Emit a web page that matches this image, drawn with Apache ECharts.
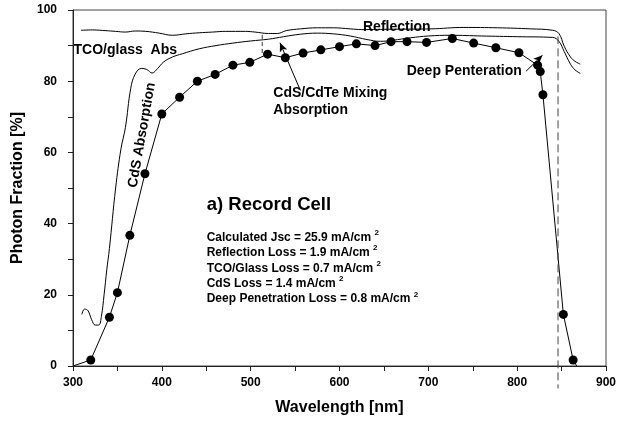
<!DOCTYPE html>
<html>
<head>
<meta charset="utf-8">
<script src="https://cdn.jsdelivr.net/npm/echarts@6/dist/echarts.min.js"></script>
<style>html,body{margin:0;padding:0;background:#fff}#c{width:626px;height:426px}</style>
</head>
<body>
<div id="c"></div>
<script>
// Measured photon fraction (dots)
const measured = [[300,0],[320,1.7],[341,13.7],[350,20.6],[364,36.7],[381,54],[400,70.8],[420,75.5],[440,80],[460,81.9],[480,84.5],[499,85.3],[519,87.6],[539,86.6],[559,87.9],[579,88.8],[600,89.7],[619,90.5],[640,90],[658,91.1],[676,91.1],[698,90.9],[727,92],[751,90.7],[776,89.4],[802,88],[823,84.5],[826,82.7],[829,76.2],[852,14.5],[863,1.7],[867,0]];
// 100 - Reflection
const reflection = [[309,94.3],[322,94.4],[337,94.2],[348,94.0],[359,93.8],[370,94.1],[382,94.0],[397,93.5],[412,92.9],[427,93.3],[442,93.6],[457,93.8],[472,94.0],[494,94.0],[505,93.8],[520,93.4],[530,93.4],[540,94.2],[556,94.7],[575,95],[593,95],[612,94.7],[625,94.5],[660,94.6],[703,94.7],[740,95.1],[778,95],[815,94.7],[840,94.3],[847,93.4],[853,89.8],[860,86.8],[865,85.6],[871,84.8]];
// 100 - Reflection - TCO/glass absorption
const tcoGlass = [[310,14.5],[313,16],[317,15.5],[321,13],[325,11.5],[329,11.5],[332,14],[335,20],[338,27],[341,33],[348,50],[354,61],[359,67],[365,78],[370,82],[377,83.6],[383,83.3],[389,82.3],[395,83.5],[402,85.4],[412,86.8],[423,87.7],[442,89.1],[461,90],[480,90.7],[500,91.3],[520,91.8],[537,92.5],[556,93.2],[575,93.5],[593,93.3],[612,92.7],[631,91.7],[646,91.2],[660,91.5],[680,92.2],[700,92.7],[725,92.9],[760,92.7],[800,92.5],[840,92.3],[847,91.2],[853,88.3],[860,84.8],[865,83.2],[871,82.2]];
// cutoff markers
const cutoffLong = [[846,92.6],[846,-6.3]];
const cutoffShort = [[513,93],[513,87.7]];
// annotation arrows [from, to]
const arrowMixing = [[556,77.4],[533,90.8]];
const arrowDeep = [[810,82.8],[828.5,87.3]];
const xTicks = {min:300, max:900, interval:100};
const yTicks = {min:0, max:100, interval:20};
const infoLines = [
  'Calculated Jsc = 25.9 mA/cm',
  'Reflection Loss = 1.9 mA/cm',
  'TCO/Glass Loss = 0.7 mA/cm',
  'CdS Loss = 1.4 mA/cm',
  'Deep Penetration Loss = 0.8 mA/cm'
];

const FONT = '"Liberation Sans", Arial, sans-serif';
const chart = echarts.init(document.getElementById('c'));
const measuredData = measured.map((p, i) => (i === 0 || i === measured.length - 1) ? {value: p, symbol: 'none'} : p);

const graphics = [];
const addText = (text, x, y, size, extra) => graphics.push(Object.assign({
  type: 'text', x: x, y: y,
  style: {text: text, fill: '#000', font: 'bold ' + size + 'px ' + FONT, textVerticalAlign: 'middle'}
}, extra || {}));
addText('TCO/glass  Abs', 73.5, 50, 14);
addText('Reflection', 363, 26.7, 14);
addText('CdS/CdTe Mixing', 273.3, 93.3, 14);
addText('Absorption', 273.3, 110, 14);
addText('Deep Penteration', 406.7, 70.7, 14);
addText('a) Record Cell', 206.7, 205, 18.5);
graphics.push({
  type: 'text', x: 142, y: 135, rotation: 80 * Math.PI / 180,
  style: {text: 'CdS Absorption', fill: '#000', font: 'bold 14px ' + FONT, textAlign: 'center', textVerticalAlign: 'middle'}
});
const infoY = [237.3, 252.7, 268.3, 283.3, 299];
infoLines.forEach((t, i) => {
  graphics.push({
    type: 'text', x: 206.7, y: infoY[i] - 8.5,
    style: {
      text: '{m|' + t + '} {s|2}',
      textVerticalAlign: 'top',
      rich: {
        m: {fontSize: 12, fontWeight: 'bold', fontFamily: FONT, fill: '#000', color: '#000', lineHeight: 17, verticalAlign: 'middle'},
        s: {fontSize: 8, fontWeight: 'bold', fontFamily: FONT, fill: '#000', color: '#000', lineHeight: 7, verticalAlign: 'top'}
      }
    }
  });
});

const axisCommon = {
  type: 'value',
  axisLine: {show: true, lineStyle: {color: '#222', width: 1}},
  axisTick: {show: true, length: 5, lineStyle: {color: '#222'}},
  minorTick: {show: true, splitNumber: 2, length: 5, lineStyle: {color: '#222'}},
  splitLine: {show: false},
  axisLabel: {color: '#000', fontWeight: 'bold', fontSize: 12, fontFamily: FONT},
  nameLocation: 'middle',
  nameTextStyle: {color: '#000', fontWeight: 'bold', fontSize: 16, fontFamily: FONT}
};

chart.setOption({
  animation: false,
  backgroundColor: '#fff',
  grid: {left: 73, right: 20, top: 10, bottom: 60, show: true, borderColor: '#444', borderWidth: 1, backgroundColor: 'transparent'},
  xAxis: Object.assign({}, axisCommon, xTicks, {name: 'Wavelength [nm]', nameGap: 34, axisLabel: Object.assign({}, axisCommon.axisLabel, {margin: 11})}),
  yAxis: Object.assign({}, axisCommon, yTicks, {name: 'Photon Fraction [%]', nameGap: 47, axisLabel: Object.assign({}, axisCommon.axisLabel, {margin: 16})}),
  graphic: graphics,
  series: [
    {type: 'line', data: reflection, smooth: 0.4, symbol: 'none', lineStyle: {color: '#000', width: 1}},
    {type: 'line', data: tcoGlass, smooth: 0.4, symbol: 'none', lineStyle: {color: '#000', width: 1}},
    {type: 'line', data: measuredData, symbol: 'circle', symbolSize: 9, itemStyle: {color: '#000'}, lineStyle: {color: '#000', width: 1},
      markLine: {silent: true, symbol: ['none', 'arrow'], symbolSize: [6, 9], label: {show: false},
        lineStyle: {color: '#000', width: 1, type: 'solid'},
        data: [
          [{coord: arrowMixing[0]}, {coord: arrowMixing[1]}],
          [{coord: arrowDeep[0]}, {coord: arrowDeep[1]}]
        ]}},
    {type: 'line', data: cutoffLong, symbol: 'none', clip: false, lineStyle: {color: '#444', width: 1, type: [8, 4]}},
    {type: 'line', data: cutoffShort, symbol: 'none', clip: false, lineStyle: {color: '#333', width: 1, type: [4, 3]}}
  ]
});
</script>
</body>
</html>
